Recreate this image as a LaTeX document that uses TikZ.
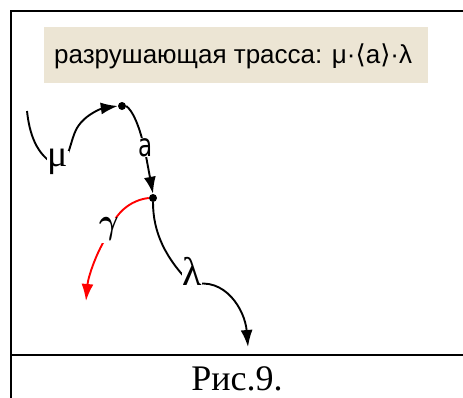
\documentclass[tikz,border=0pt]{standalone}
\usepackage{fontspec}
\setmainfont{Liberation Serif}
\newfontfamily\titlefont{Liberation Sans}
\newfontfamily\djv{DejaVu Sans}
\usetikzlibrary{arrows.meta}
\definecolor{beige}{RGB}{236,229,212}
\definecolor{myred}{RGB}{255,0,0}
\tikzset{
  frameline/.style={line width=2.4pt},
  curve/.style={line width=1.9pt},
  tip/.style={-{Latex[length=17pt,width=12pt]}},
  dotnode/.style={circle,fill=black,inner sep=0pt,minimum width=6pt,minimum height=8pt},
  lbl/.style={fill=white,inner sep=0.5pt,anchor=base},
}
\begin{document}
\begin{tikzpicture}[x=1pt,y=-1pt]
\useasboundingbox (0,0) rectangle (463,397);
% frame
\coordinate (tl) at (11,11);
\coordinate (tr) at (465,11);
\coordinate (bl) at (11,399);
\coordinate (ml) at (11,355);
\coordinate (mr) at (465,355);
\draw[frameline] (tr) -- (tl) -- (bl);
\draw[frameline] (ml) -- (mr);
% title box
\node[fill=beige,minimum width=384pt,minimum height=56pt,inner sep=0pt,anchor=north west] (title) at (44,27) {};
\node[font=\titlefont\fontsize{26}{28}\selectfont,anchor=base west,inner sep=0pt] (titletext) at (54,63)
  {разрушающая трасса: μ·{\djv ⟨}a{\djv ⟩}·λ};
% caption
\node[font=\fontsize{36}{40}\selectfont,anchor=base,inner sep=0pt] (cap) at (237,390) {Рис.9.};
% dots and points
\node[dotnode] (d1) at (122,106) {};
\node[dotnode] (d2) at (153,198) {};
\coordinate (s) at (27,111);
\coordinate (e1) at (86,301);
\coordinate (e2) at (248,347);
% mu path
\draw[curve,tip] (s) .. controls (30,140) and (40,158) .. (58,166)
  node[lbl,font=\fontsize{38}{40}\selectfont,text height=15pt,text depth=7pt] (mu) {μ}
  .. controls (70,160) and (70,140) .. (77,128)
  .. controls (86,113) and (104,108) .. (d1.west);
% a path
\draw[curve,tip] (d1.east) .. controls (132,110) and (140,125) .. (146,156)
  node[lbl,font=\djv\fontsize{32}{34}\selectfont,text height=18pt,text depth=0pt] (a) {\scalebox{0.72}[1]{a}}
  -- (d2.north);
% gamma path
\draw[curve,tip,myred] (d2.west) .. controls (130,200) and (114,214) .. (109,233)
  node[lbl,text=black,text height=15pt,text depth=9pt] (g) {\scalebox{3}[3.6]{\boldmath$\gamma$}}
  .. controls (96,252) and (88,278) .. (e1);
% lambda path
\draw[curve,tip] (d2.south) .. controls (153,232) and (165,258) .. (192,285)
  node[lbl,font=\fontsize{40}{42}\selectfont,text height=27pt,text depth=0pt] (l) {λ}
  .. controls (225,276) and (245,310) .. (e2);
\end{tikzpicture}
\end{document}
